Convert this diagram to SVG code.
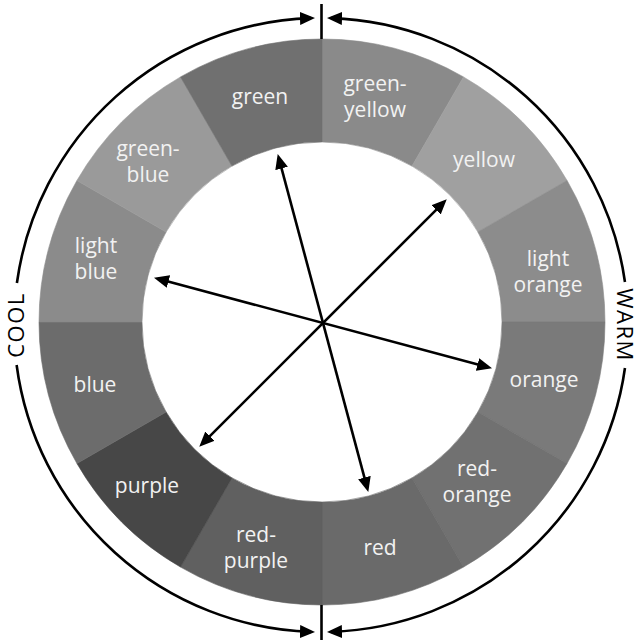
<svg xmlns="http://www.w3.org/2000/svg" width="636" height="642" viewBox="0 0 636 642">
<style>
.lbl{font-family:"Open Sans","Liberation Sans",sans-serif;font-size:21px;fill:#f2f2f2;text-anchor:middle}
.side{font-family:"Open Sans","Liberation Sans",sans-serif;font-size:22px;fill:#000;text-anchor:middle;letter-spacing:1.5px}
.ln{fill:none;stroke:#000;stroke-width:2.6}
.arr{marker-start:url(#ah);marker-end:url(#ah)}
</style>
<defs>
<marker id="ah" viewBox="0 0 15 13" refX="11" refY="6.5" markerWidth="15" markerHeight="13" markerUnits="userSpaceOnUse" orient="auto-start-reverse">
<path d="M0,0 L15,6.5 L0,13 Z" fill="#000"/>
</marker>
</defs>
<rect width="636" height="642" fill="#fff"/>
<g id="green-yellow"><path d="M322,39 A283,283 0 0 1 463.5,76.92 L412,166.12 A180,180 0 0 0 322,142 Z" fill="#8a8a8a" stroke="#8a8a8a" stroke-width="0.6"/><text class="lbl" x="375" y="91">green-</text><text class="lbl" x="375" y="117">yellow</text></g>
<g id="yellow"><path d="M463.5,76.92 A283,283 0 0 1 567.08,180.5 L477.88,232 A180,180 0 0 0 412,166.12 Z" fill="#a0a0a0" stroke="#a0a0a0" stroke-width="0.6"/><text class="lbl" x="484" y="167">yellow</text></g>
<g id="light-orange"><path d="M567.08,180.5 A283,283 0 0 1 605,322 L502,322 A180,180 0 0 0 477.88,232 Z" fill="#8c8c8c" stroke="#8c8c8c" stroke-width="0.6"/><text class="lbl" x="548" y="266">light</text><text class="lbl" x="548" y="292">orange</text></g>
<g id="orange"><path d="M605,322 A283,283 0 0 1 567.08,463.5 L477.88,412 A180,180 0 0 0 502,322 Z" fill="#7a7a7a" stroke="#7a7a7a" stroke-width="0.6"/><text class="lbl" x="544" y="387">orange</text></g>
<g id="red-orange"><path d="M567.08,463.5 A283,283 0 0 1 463.5,567.08 L412,477.88 A180,180 0 0 0 477.88,412 Z" fill="#717171" stroke="#717171" stroke-width="0.6"/><text class="lbl" x="477" y="476">red-</text><text class="lbl" x="477" y="502">orange</text></g>
<g id="red"><path d="M463.5,567.08 A283,283 0 0 1 322,605 L322,502 A180,180 0 0 0 412,477.88 Z" fill="#6a6a6a" stroke="#6a6a6a" stroke-width="0.6"/><text class="lbl" x="380" y="555">red</text></g>
<g id="red-purple"><path d="M322,605 A283,283 0 0 1 180.5,567.08 L232,477.88 A180,180 0 0 0 322,502 Z" fill="#606060" stroke="#606060" stroke-width="0.6"/><text class="lbl" x="256" y="542">red-</text><text class="lbl" x="256" y="568">purple</text></g>
<g id="purple"><path d="M180.5,567.08 A283,283 0 0 1 76.92,463.5 L166.12,412 A180,180 0 0 0 232,477.88 Z" fill="#474747" stroke="#474747" stroke-width="0.6"/><text class="lbl" x="147" y="493">purple</text></g>
<g id="blue"><path d="M76.92,463.5 A283,283 0 0 1 39,322 L142,322 A180,180 0 0 0 166.12,412 Z" fill="#6c6c6c" stroke="#6c6c6c" stroke-width="0.6"/><text class="lbl" x="95" y="392">blue</text></g>
<g id="light-blue"><path d="M39,322 A283,283 0 0 1 76.92,180.5 L166.12,232 A180,180 0 0 0 142,322 Z" fill="#8b8b8b" stroke="#8b8b8b" stroke-width="0.6"/><text class="lbl" x="96" y="253">light</text><text class="lbl" x="96" y="279">blue</text></g>
<g id="green-blue"><path d="M76.92,180.5 A283,283 0 0 1 180.5,76.92 L232,166.12 A180,180 0 0 0 166.12,232 Z" fill="#9a9a9a" stroke="#9a9a9a" stroke-width="0.6"/><text class="lbl" x="148" y="156">green-</text><text class="lbl" x="148" y="182">blue</text></g>
<g id="green"><path d="M180.5,76.92 A283,283 0 0 1 322,39 L322,142 A180,180 0 0 0 232,166.12 Z" fill="#707070" stroke="#707070" stroke-width="0.6"/><text class="lbl" x="260" y="104">green</text></g>
<g id="cool"><text class="side" transform="translate(24,325) rotate(-90)">COOL</text></g>
<g id="warm"><text class="side" transform="translate(617,325) rotate(90)">WARM</text></g>
<g id="connectors">
<line class="ln" x1="321.5" y1="4" x2="321.5" y2="39"/>
<line class="ln" x1="321.5" y1="605" x2="321.5" y2="640"/>
<path class="ln" d="M16.89,283 A307,307 0 0 1 311,18.16" marker-end="url(#ah)"/>
<path class="ln" d="M16.62,365 A307,307 0 0 0 311,631.84" marker-end="url(#ah)"/>
<path class="ln" d="M624.97,282 A307,307 0 0 0 331,18.16" marker-end="url(#ah)"/>
<path class="ln" d="M624.97,368 A307,307 0 0 1 331,631.84" marker-end="url(#ah)"/>
<line class="ln arr" x1="278.74" y1="157.83" x2="367.26" y2="488.17"/>
<line class="ln arr" x1="443.92" y1="202.08" x2="202.08" y2="443.92"/>
<line class="ln arr" x1="488.17" y1="367.26" x2="157.83" y2="278.74"/>
</g>
</svg>
